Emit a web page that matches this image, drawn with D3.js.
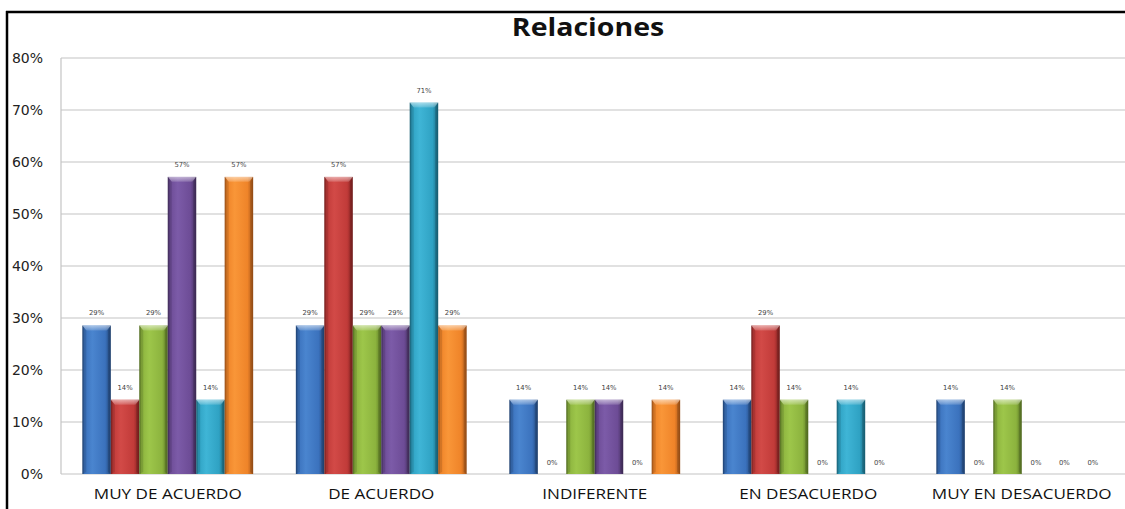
<!DOCTYPE html>
<html><head><meta charset="utf-8">
<script src="https://cdn.jsdelivr.net/npm/d3@7"></script>
<style>html,body{margin:0;padding:0;background:#fff;overflow:hidden}</style>
</head><body>
<svg id="c" width="1125" height="509"></svg>
<script>
const categories = ["MUY DE ACUERDO","DE ACUERDO","INDIFERENTE","EN DESACUERDO","MUY EN DESACUERDO"];
const seriesNames = ["S1","S2","S3","S4","S5","S6"];
const s1 = [28.57,28.57,14.29,14.29,14.29];
const s2 = [14.29,57.14,0,28.57,0];
const s3 = [28.57,28.57,14.29,14.29,14.29];
const s4 = [57.14,28.57,14.29,0,0];
const s5 = [14.29,71.43,0,14.29,0];
const s6 = [57.14,28.57,14.29,0,0];
const seriesValues = [s1,s2,s3,s4,s5,s6];
const yTicks = [0,10,20,30,40,50,60,70,80];
const colors = [
  {mid:"#3b72bd", light:"#4a85cf", dark:"#23497e"},
  {mid:"#c13b39", light:"#d24a47", dark:"#822120"},
  {mid:"#8cb33e", light:"#9dc64a", dark:"#5c7a25"},
  {mid:"#6d4c96", light:"#7c5ba8", dark:"#45305f"},
  {mid:"#2fa2c3", light:"#3fb5d6", dark:"#1c6b82"},
  {mid:"#ef8429", light:"#f99638", dark:"#a9571a"}
];

(function(){
const svg = d3.select("#c");
const W = 1125, H = 509;
const pl = 61, pr = 1128.5, pt = 58, pb = 474;
const stretch = 1.14;

// frame (top and left edges visible)
svg.append("line").attr("x1",6).attr("x2",W).attr("y1",12).attr("y2",12).attr("stroke","#000").attr("stroke-width",2.5);
svg.append("line").attr("x1",7).attr("x2",7).attr("y1",11).attr("y2",H).attr("stroke","#000").attr("stroke-width",2.5);

const defs = svg.append("defs");
colors.forEach((c,i)=>{
  const g = defs.append("linearGradient").attr("id","g"+i).attr("x1","0").attr("x2","1").attr("y1","0").attr("y2","0");
  g.append("stop").attr("offset","0").attr("stop-color",c.dark);
  g.append("stop").attr("offset","0.08").attr("stop-color",c.mid);
  g.append("stop").attr("offset","0.35").attr("stop-color",c.light);
  g.append("stop").attr("offset","0.8").attr("stop-color",c.mid);
  g.append("stop").attr("offset","1").attr("stop-color",c.dark);
  const t = defs.append("linearGradient").attr("id","t"+i).attr("x1","0").attr("x2","0").attr("y1","0").attr("y2","1");
  t.append("stop").attr("offset","0").attr("stop-color","#fff").attr("stop-opacity",0.55);
  t.append("stop").attr("offset","1").attr("stop-color","#fff").attr("stop-opacity",0.15);
});

const x0 = d3.scaleBand().domain(categories).range([pl,pr]).paddingInner(0.2).paddingOuter(0.1);
const x1 = d3.scaleBand().domain(seriesNames).range([0,x0.bandwidth()]);
const y = d3.scaleLinear().domain([0,80]).range([pb,pt]);

// gridlines
svg.append("g").selectAll("line").data(yTicks).join("line")
  .attr("x1",pl).attr("x2",W+10).attr("y1",d=>y(d)).attr("y2",d=>y(d))
  .attr("stroke","#c4c4c4").attr("stroke-width",1.2);
svg.append("line").attr("x1",pl).attr("x2",pl).attr("y1",pt).attr("y2",pb)
  .attr("stroke","#c4c4c4").attr("stroke-width",1.2);

function widen(sel){
  sel.each(function(){
    const L = this.getComputedTextLength();
    d3.select(this).attr("textLength",L*stretch).attr("lengthAdjust","spacingAndGlyphs");
  });
}

// y axis labels
const yAxis = d3.axisLeft(y).tickValues(yTicks).tickFormat(d=>d+"%").tickSize(0).tickPadding(0);
const ya = svg.append("g").attr("transform",`translate(43,0)`).call(yAxis);
ya.select(".domain").remove();
ya.selectAll("text").attr("font-family","'DejaVu Sans', sans-serif").attr("font-size",14).attr("fill","#222").attr("dy","0.35em");

// x axis labels
const xAxis = d3.axisBottom(x0).tickSize(0).tickPadding(0);
const xa = svg.append("g").attr("transform",`translate(0,${pb+13})`).call(xAxis);
xa.select(".domain").remove();
xa.selectAll("text").attr("font-family","'Open Sans', sans-serif").attr("font-size",15).attr("fill","#111").attr("dy","0.78em");
widen(xa.selectAll("text"));

// bars
const groups = svg.append("g").selectAll("g").data(categories).join("g")
  .attr("transform",d=>`translate(${x0(d)},0)`);
groups.each(function(cat,ci){
  const g = d3.select(this);
  seriesNames.forEach((s,si)=>{
    const v = seriesValues[si][ci];
    const bx = x1(s), bw = x1.bandwidth();
    if (v > 0) {
      g.append("rect").attr("x",bx).attr("y",y(v)).attr("width",bw).attr("height",y(0)-y(v))
        .attr("fill",`url(#g${si})`);
      const bt = y(v);
      g.append("path").attr("d",`M${bx},${bt}L${bx+bw},${bt}L${bx+bw-4},${bt+5}L${bx+4},${bt+5}Z`)
        .attr("fill",`url(#t${si})`);
      g.append("path").attr("d",`M${bx},${bt}L${bx+4},${bt+5}L${bx+4},${pb-2}L${bx},${pb}Z`)
        .attr("fill","#000").attr("opacity",0.12);
      g.append("path").attr("d",`M${bx+bw},${bt}L${bx+bw-3},${bt+5}L${bx+bw-3},${pb-2}L${bx+bw},${pb}Z`)
        .attr("fill","#000").attr("opacity",0.15);
    }
    g.append("text").attr("x",bx+bw/2).attr("y",v>0 ? y(v)-10 : pb-9)
      .attr("text-anchor","middle").attr("font-family","'DejaVu Sans', sans-serif")
      .attr("font-size",6.8).attr("fill","#444")
      .text(Math.round(v)+"%");
  });
});

// title
const tt = svg.append("text").attr("x",588).attr("y",36).attr("text-anchor","middle")
  .attr("font-family","'Open Sans', sans-serif").attr("font-weight","bold").attr("font-size",25)
  .attr("fill","#111").text("Relaciones");
widen(tt);
})();
</script>
</body></html>
